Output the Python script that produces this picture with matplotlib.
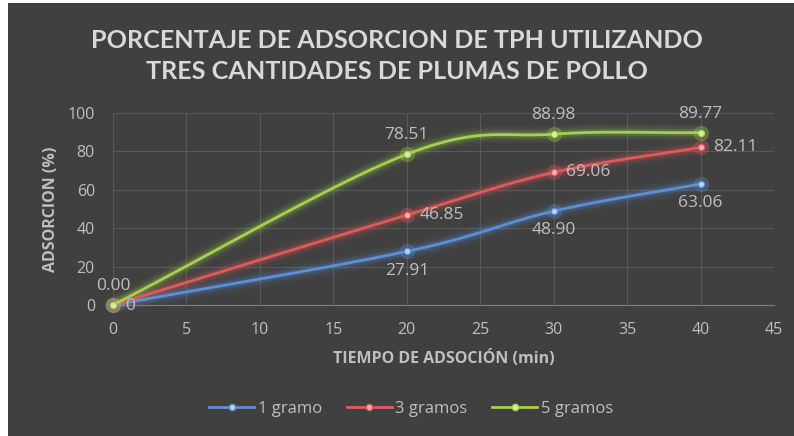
import numpy as np
import matplotlib
matplotlib.use("Agg")
import matplotlib.pyplot as plt
from matplotlib.lines import Line2D

plt.rcParams['font.family'] = ['Open Sans', 'DejaVu Sans']

time_min = [0, 20, 30, 40]
series_names = ["1 gramo", "3 gramos", "5 gramos"]
g1 = [0.0, 27.91, 48.90, 63.06]
g3 = [0.0, 46.85, 69.06, 82.11]
g5 = [0.0, 78.51, 88.98, 89.77]
colors = ["#5B8FD6", "#E05A5A", "#A6D14E"]
marker_fc = ["#B9D2F2", "#F2B0B0", "#D6EFA6"]

bg = "#404040"
txt = "#BFBFBF"


def smooth(x, y, n=40):
    # Catmull-Rom style smoothing (render of Excel smoothed line)
    x = np.asarray(x, float); y = np.asarray(y, float)
    px = np.concatenate([[2 * x[0] - x[1]], x, [2 * x[-1] - x[-2]]])
    py = np.concatenate([[2 * y[0] - y[1]], y, [2 * y[-1] - y[-2]]])
    xs, ys = [], []
    for i in range(1, len(px) - 2):
        t = np.linspace(0, 1, n)
        p0, p1, p2, p3 = [np.array([px[j], py[j]]) for j in (i - 1, i, i + 1, i + 2)]
        c1 = p1 + (p2 - p0) / 6
        c2 = p2 - (p3 - p1) / 6
        pts = ((1 - t) ** 3)[:, None] * p1 + (3 * (1 - t) ** 2 * t)[:, None] * c1 + \
              (3 * (1 - t) * t ** 2)[:, None] * c2 + (t ** 3)[:, None] * p2
        xs.extend(pts[:, 0]); ys.extend(pts[:, 1])
    return np.array(xs), np.array(ys)


fig = plt.figure(figsize=(7.94, 4.36), dpi=100)
fig.patch.set_facecolor("white")
fig.add_artist(plt.Rectangle((8 / 794, 0), 1, 433 / 436, transform=fig.transFigure,
                             facecolor=bg, edgecolor="none", zorder=-10))
ax = fig.add_axes([113 / 794, 131 / 436, (774 - 113) / 794, (323 - 131) / 436])
ax.set_facecolor(bg)

ax.set_xlim(0, 45)
ax.set_ylim(0, 100)
ax.set_xticks(range(0, 46, 5))
ax.set_yticks(range(0, 101, 20))
ax.grid(True, color="#585858", linewidth=0.8)
ax.set_axisbelow(True)
for s in ["top", "right", "left"]:
    ax.spines[s].set_visible(False)
ax.spines["bottom"].set_color("#7F7F7F")
ax.tick_params(axis="both", length=0, colors=txt, labelsize=11.5)
ax.tick_params(axis="x", pad=12)
ax.tick_params(axis="y", pad=13)

data = [g1, g3, g5]
for vals, c, mfc in zip(data, colors, marker_fc):
    sx, sy = smooth(time_min, vals)
    for lw, a in [(12, 0.06), (8, 0.1), (5, 0.18)]:
        ax.plot(sx, sy, color=c, lw=lw, alpha=a, solid_capstyle="round", zorder=2, clip_on=False)
    ax.plot(sx, sy, color=c, lw=2.0, zorder=3, clip_on=False)
    ax.plot(time_min, vals, "o", ms=10, color=c, alpha=0.25, zorder=3, clip_on=False)
    ax.plot(time_min, vals, "o", ms=4.5, mfc=mfc, mec=c, mew=0.8, zorder=4, clip_on=False)

lab_kw = dict(color=txt, fontsize=12.5, zorder=5)
# 5 gramos above
for x, v in zip(time_min, g5):
    ax.annotate(f"{v:.2f}", (x, v), xytext=(0, 8), textcoords="offset points",
                ha="center", va="bottom", **lab_kw)
# 3 gramos right
for x, v in zip(time_min[1:], g3[1:]):
    ax.annotate(f"{v:.2f}", (x, v), xytext=(9, 0), textcoords="offset points",
                ha="left", va="center", **lab_kw)
ax.annotate(f"{g3[0]:.0f}", (time_min[0], g3[0]), xytext=(9, -1), textcoords="offset points",
            ha="left", va="center", **lab_kw)
# 1 gramo below
for x, v in zip(time_min[1:], g1[1:]):
    ax.annotate(f"{v:.2f}", (x, v), xytext=(0, -8), textcoords="offset points",
                ha="center", va="top", **lab_kw)

ax.set_xlabel("TIEMPO DE ADSOCIÓN (min)", color=txt, fontsize=11.5, fontweight="bold", labelpad=9)
ax.set_ylabel("ADSORCION (%)", color=txt, fontsize=11.5, fontweight="bold", labelpad=6)

fig.text(0.5, 1 - 56 / 436, "PORCENTAJE DE ADSORCION DE TPH UTILIZANDO\nTRES CANTIDADES DE PLUMAS DE POLLO",
         ha="center", va="center", color="#D9D9D9", fontsize=18.1, fontweight="bold",
         family=["Lato", "DejaVu Sans"], linespacing=1.4)

handles = [Line2D([0], [0], color=c, lw=2, marker="o", ms=4.5, mfc=mfc, mec=c)
           for c, mfc in zip(colors, marker_fc)]
leg = fig.legend(handles, series_names, loc="center", bbox_to_anchor=(411 / 794, 1 - 409 / 436),
                 ncol=3, frameon=False, fontsize=12, labelcolor=txt, handlelength=2.7,
                 handletextpad=0.2, columnspacing=1.5)

fig.savefig("out.png", dpi=100, facecolor=fig.get_facecolor())
